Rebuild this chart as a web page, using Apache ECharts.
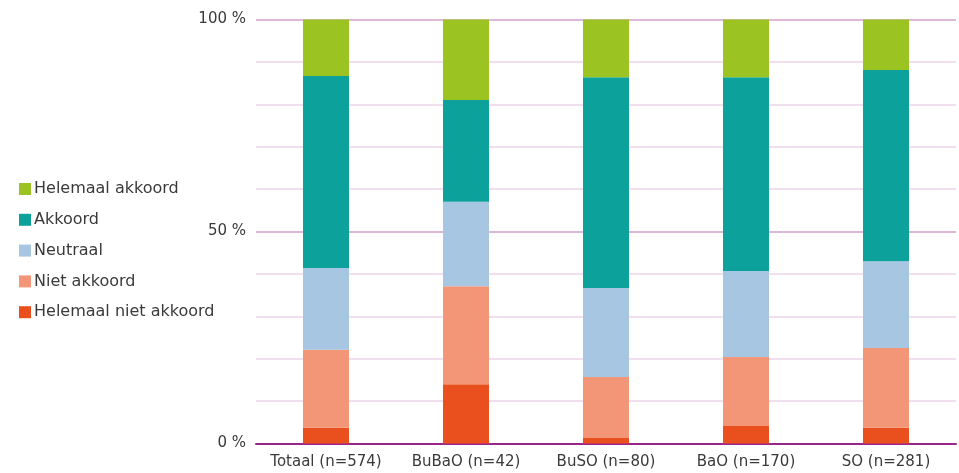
<!DOCTYPE html>
<html>
<head>
<meta charset="utf-8">
<script src="https://cdn.jsdelivr.net/npm/echarts@6/dist/echarts.min.js"></script>
<style>
html,body{margin:0;padding:0;background:#fff;}
#chart{width:959px;height:473px;}
</style>
</head>
<body>
<div id="chart"></div>
<script>
var categories = ['Totaal (n=574)', 'BuBaO (n=42)', 'BuSO (n=80)', 'BaO (n=170)', 'SO (n=281)'];
var seriesNames = ['Helemaal niet akkoord', 'Niet akkoord', 'Neutraal', 'Akkoord', 'Helemaal akkoord'];
var helemaalNietAkkoord = [3.7, 14.0, 1.3, 4.1, 3.7];
var nietAkkoord = [18.4, 23.1, 14.4, 16.3, 18.8];
var neutraal = [19.3, 19.9, 21.0, 20.3, 20.5];
var akkoord = [45.3, 24.0, 49.7, 45.7, 45.1];
var helemaalAkkoord = [13.7, 19.1, 13.9, 14.0, 12.0];
var yTickLabels = {0: '0 %', 50: '50 %', 100: '100 %'};

var colors = ['#E9501E', '#F29677', '#A6C6E2', '#0DA19C', '#9BC321'];
var values = [helemaalNietAkkoord, nietAkkoord, neutraal, akkoord, helemaalAkkoord];

var chart = echarts.init(document.getElementById('chart'), null, {renderer: 'canvas'});
var font = '"DejaVu Sans", sans-serif';
var gridColors = [];
for (var i = 0; i <= 10; i++) {
  gridColors.push(i === 5 || i === 10 ? '#DDB8D9' : '#F1DEEE');
}
chart.setOption({
  animation: false,
  color: colors,
  legend: {
    orient: 'vertical',
    left: 14,
    top: 176,
    itemWidth: 12,
    itemHeight: 12,
    itemGap: 14.8,
    icon: 'rect',
    data: seriesNames.slice().reverse(),
    textStyle: {fontFamily: font, fontSize: 16, color: '#3a3a3a', lineHeight: 16, padding: [0, 0, 0, -2]}
  },
  grid: {left: 256, right: 3, top: 19.5, bottom: 29.5, containLabel: false},
  xAxis: {
    type: 'category',
    data: categories,
    axisLine: {show: true, lineStyle: {color: '#9C2589', width: 2}},
    axisTick: {show: false},
    axisLabel: {fontFamily: font, fontSize: 15, color: '#3a3a3a', margin: 11, interval: 0}
  },
  yAxis: {
    type: 'value',
    min: 0,
    max: 100,
    interval: 10,
    axisLine: {show: false},
    axisTick: {show: false},
    splitLine: {show: true, lineStyle: {color: gridColors, width: 2}},
    axisLabel: {
      fontFamily: font, fontSize: 15, color: '#3a3a3a', margin: 10,
      formatter: function (v) { return yTickLabels[v] !== undefined ? yTickLabels[v] : ''; }
    }
  },
  series: seriesNames.map(function (name, idx) {
    return {
      name: name,
      type: 'bar',
      stack: 'total',
      barWidth: 46,
      data: values[idx],
      itemStyle: {color: colors[idx]}
    };
  })
});
</script>
</body>
</html>
